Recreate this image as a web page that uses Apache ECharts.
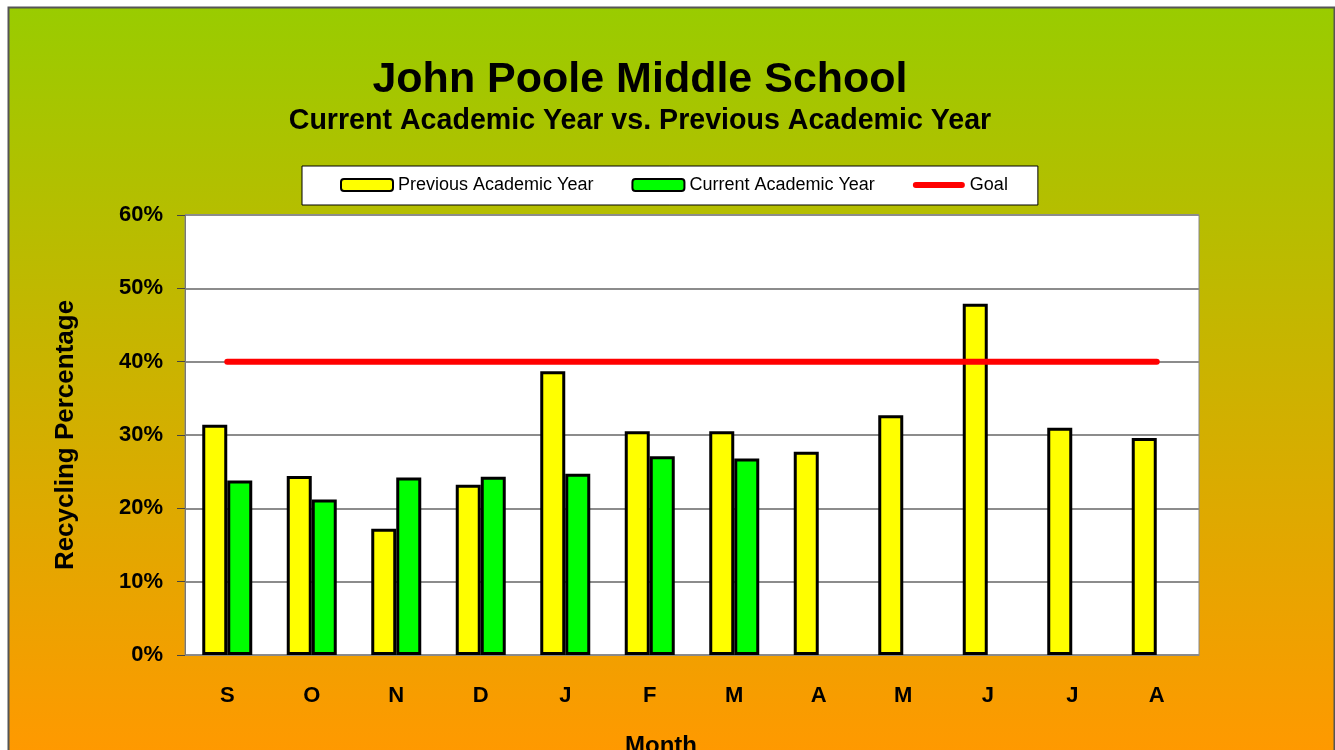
<!DOCTYPE html>
<html>
<head>
<meta charset="utf-8">
<title>John Poole Middle School</title>
<script src="https://cdn.jsdelivr.net/npm/echarts@6/dist/echarts.min.js"></script>
<style>
html, body { margin: 0; padding: 0; background: #fff; }
#main { width: 1335px; height: 750px; }
</style>
</head>
<body>
<div id="main"></div>
<script>
// months of the school year, Sep -> Aug
var months = ['S', 'O', 'N', 'D', 'J', 'F', 'M', 'A', 'M', 'J', 'J', 'A'];
var yTicks = [0, 10, 20, 30, 40, 50, 60];
// recycling percentage per month
var previousYear = [31.4, 24.4, 17.2, 23.2, 38.7, 30.5, 30.5, 27.7, 32.7, 47.9, 31.0, 29.6];
var currentYear = [23.8, 21.2, 24.2, 24.3, 24.7, 27.1, 26.8, null, null, null, null, null];
var goal = [40, 40, 40, 40, 40, 40, 40, 40, 40, 40, 40, 40];

var chart = echarts.init(document.getElementById('main'));
var font = 'Liberation Sans, Arial, sans-serif';

var option = {
    animation: false,
    backgroundColor: '#fff',
    graphic: [
        {
            type: 'rect', z: -10, silent: true,
            shape: { x: 8.5, y: 7.5, width: 1326, height: 800 },
            style: {
                fill: new echarts.graphic.LinearGradient(0, 0, 0, 1, [
                    { offset: 0, color: '#99CC00' },
                    { offset: 0.93, color: '#FF9900' },
                    { offset: 1, color: '#FF9900' }
                ]),
                stroke: '#555', lineWidth: 2
            }
        },
        {
            type: 'text', x: 640, y: 59, z: 10,
            style: { text: 'John Poole Middle School', textAlign: 'center', fill: '#000',
                     font: 'bold 43px ' + font }
        },
        {
            type: 'text', x: 640, y: 107, z: 10,
            style: { text: 'Current Academic Year vs. Previous Academic Year', textAlign: 'center', fill: '#000',
                     font: 'bold 28.6px ' + font }
        },
        {
            type: 'text', x: 661, y: 734, z: 10,
            style: { text: 'Month', textAlign: 'center', fill: '#000',
                     font: 'bold 24px ' + font }
        }
    ],
    legend: {
        left: 302, top: 166,
        padding: [10, 30, 11, 38],
        backgroundColor: '#fff',
        borderColor: '#000',
        borderWidth: 1,
        itemWidth: 52,
        itemHeight: 12,
        itemGap: 38,
        textStyle: { fontFamily: font, fontSize: 18, color: '#000' },
        data: [
            { name: 'Previous Academic Year' },
            { name: 'Current Academic Year' },
            { name: 'Goal', icon: 'path://M3,0 L49,0 A3,3 0 0 1 49,6 L3,6 A3,3 0 0 1 3,0 Z' }
        ]
    },
    grid: {
        left: 185, top: 215, width: 1014, height: 440,
        show: true,
        backgroundColor: '#fff',
        borderColor: '#888',
        borderWidth: 1
    },
    xAxis: {
        type: 'category',
        data: months,
        axisLine: { lineStyle: { color: '#888', width: 1 } },
        axisTick: { show: false },
        axisLabel: { color: '#000', fontFamily: font, fontWeight: 'bold', fontSize: 22, margin: 30 }
    },
    yAxis: {
        type: 'value',
        min: yTicks[0], max: yTicks[yTicks.length - 1], interval: 10,
        name: 'Recycling Percentage',
        nameLocation: 'middle',
        nameGap: 106,
        nameTextStyle: { color: '#000', fontFamily: font, fontWeight: 'bold', fontSize: 26 },
        axisLine: { show: true, lineStyle: { color: '#777', width: 1 } },
        axisTick: { show: true, length: 8, lineStyle: { color: '#444' } },
        axisLabel: { color: '#000', fontFamily: font, fontWeight: 'bold', fontSize: 22, margin: 22,
                     formatter: '{value}%' },
        splitLine: { lineStyle: { color: '#8c8c8c', width: 2 } }
    },
    series: [
        {
            name: 'Previous Academic Year',
            type: 'bar',
            data: previousYear,
            barWidth: 25,
            barGap: 0,
            itemStyle: { color: '#FFFF00', borderColor: '#000', borderWidth: 3 }
        },
        {
            name: 'Current Academic Year',
            type: 'bar',
            data: currentYear,
            barWidth: 25,
            itemStyle: { color: '#00FF00', borderColor: '#000', borderWidth: 3 }
        },
        {
            name: 'Goal',
            type: 'line',
            data: goal,
            symbol: 'none',
            z: 5,
            itemStyle: { color: '#FF0000' },
            lineStyle: { color: '#FF0000', width: 6, cap: 'round' }
        }
    ]
};

chart.setOption(option);
</script>
</body>
</html>
